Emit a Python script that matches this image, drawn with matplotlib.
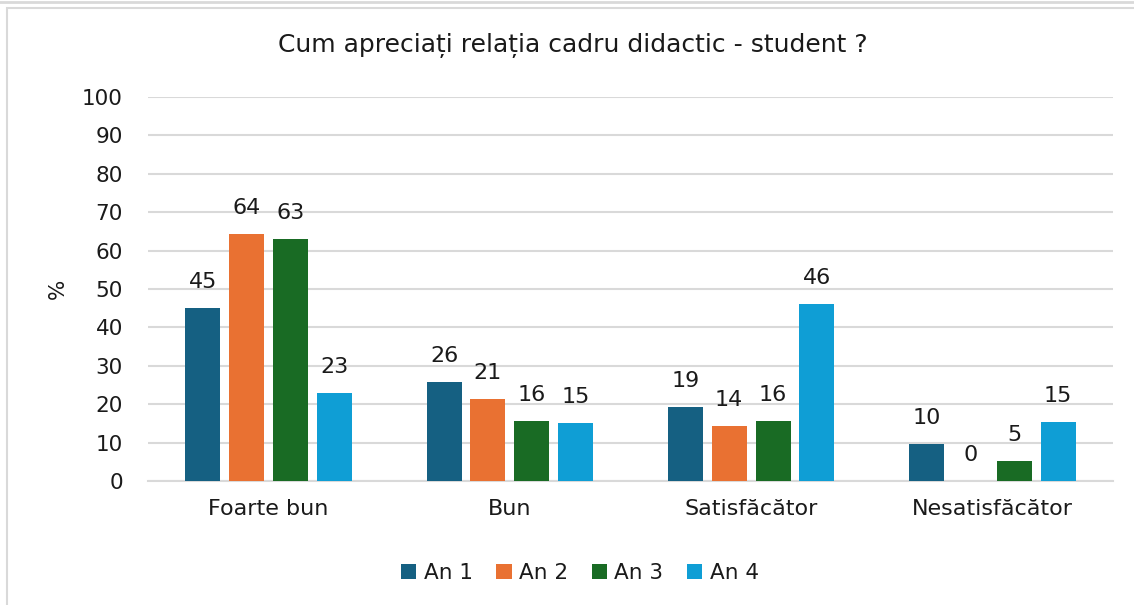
import matplotlib
matplotlib.use("Agg")
import matplotlib.pyplot as plt
import numpy as np
from matplotlib.patches import Rectangle

plt.rcParams['font.family'] = ['DejaVu Sans']

categories = ["Foarte bun", "Bun", "Satisfăcător", "Nesatisfăcător"]
series_names = ["An 1", "An 2", "An 3", "An 4"]
an1 = [45.1, 25.8, 19.3, 9.7]
an2 = [64.3, 21.4, 14.3, 0.0]
an3 = [63.0, 15.6, 15.7, 5.2]
an4 = [23.0, 15.2, 46.2, 15.3]
series = [an1, an2, an3, an4]
colors = ["#156082", "#E97132", "#196B24", "#0F9ED5"]
yticks = [0, 10, 20, 30, 40, 50, 60, 70, 80, 90, 100]

W, H = 1134, 605
fig = plt.figure(figsize=(W / 100, H / 100), dpi=100)
fig.patches.append(Rectangle((7 / W, -0.01), 1.2, 1 - 8 / H + 0.01, transform=fig.transFigure,
                             fill=False, edgecolor="#d9d9d9", linewidth=1.5))
fig.add_artist(plt.Line2D([0, 1], [1 - 1.5 / H, 1 - 1.5 / H], transform=fig.transFigure,
                          color="#d9d9d9", linewidth=2))

ax = fig.add_axes([148 / W, 1 - 481 / H, (1113 - 148) / W, (481 - 97) / H])
x = np.arange(len(categories))
bw = 0.145
pitch = 0.182
for i, (vals, c, name) in enumerate(zip(series, colors, series_names)):
    pos = x + (i - 1.5) * pitch
    bars = ax.bar(pos, vals, width=bw, color=c, label=name, zorder=3)
    ax.bar_label(bars, labels=[f"{v:.0f}" for v in vals], padding=11.5, fontsize=16, color="#1a1a1a")

ax.set_xlim(-0.5, len(categories) - 0.5)
ax.set_ylim(0, 100)
ax.set_yticks(yticks)
ax.set_xticks(x)
ax.set_xticklabels(categories, fontsize=16, color="#1a1a1a")
ax.tick_params(axis='y', labelsize=15.5, colors="#1a1a1a", length=0, pad=18)
ax.tick_params(axis='x', length=0, pad=13)
ax.grid(axis='y', color="#d9d9d9", linewidth=1.5, zorder=0)
for s in ["top", "right", "left"]:
    ax.spines[s].set_visible(False)
ax.spines["bottom"].set_color("#d9d9d9")
ax.spines["bottom"].set_linewidth(1.5)
ax.set_ylabel("%", fontsize=15.5, color="#1a1a1a", labelpad=10)

fig.text(573 / W, 1 - 45 / H, "Cum apreciați relația cadru didactic - student ?", ha="center",
         va="center", fontsize=18, color="#1a1a1a")

leg = fig.legend(loc="center", bbox_to_anchor=(580 / W, 1 - 573 / H), ncol=4, frameon=False,
                 fontsize=15.5, handlelength=0.7, handleheight=0.7, handletextpad=0.35,
                 columnspacing=1.1)
for t in leg.get_texts():
    t.set_color("#1a1a1a")

fig.savefig("out.png", dpi=100)
